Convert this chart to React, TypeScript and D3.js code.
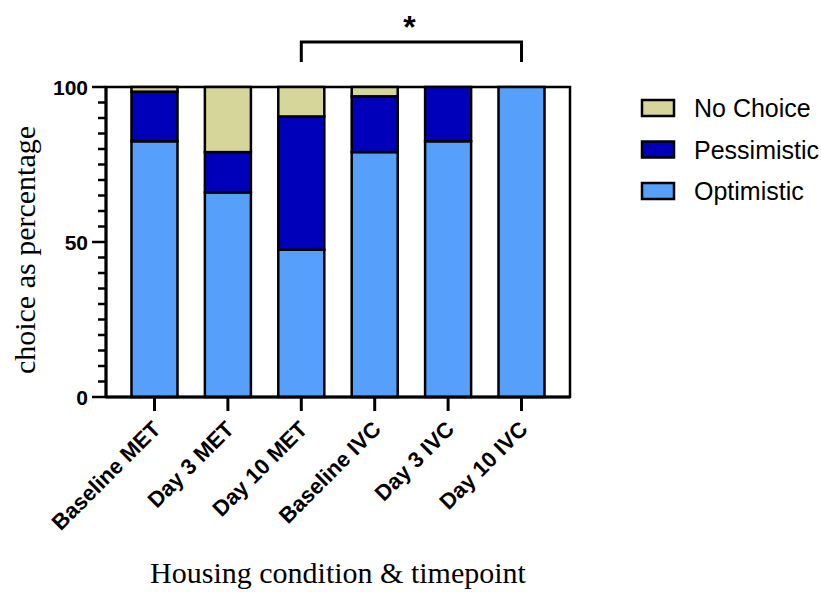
import React from "react";
import * as d3 from "d3";

// Housing condition & timepoint groups
const categories = ["Baseline MET", "Day 3 MET", "Day 10 MET", "Baseline IVC", "Day 3 IVC", "Day 10 IVC"];
// Percentage of choices per group (stacked bottom to top)
const optimistic = [82.5, 66, 47.5, 79, 82.5, 100];
const pessimistic = [16, 13, 43, 18, 17.5, 0];
const noChoice = [1.5, 21, 9.5, 3, 0, 0];

const seriesNames = ["Optimistic", "Pessimistic", "No Choice"];
const seriesColors = ["#56A0FB", "#0000BB", "#D6D69A"];
const legendOrder = ["No Choice", "Pessimistic", "Optimistic"];
const yTicks = [0, 50, 100];

const W = 821;
const H = 592;
const margin = { left: 106, right: 570, top: 87, bottom: 397 };

export default function App() {
  const x = d3
    .scaleBand<string>()
    .domain(categories)
    .range([margin.left, margin.right])
    .paddingInner(0.373)
    .paddingOuter(0.347);
  const y = d3.scaleLinear().domain([0, 100]).range([margin.bottom, margin.top]);

  const rows = categories.map((c, i) => ({
    cat: c,
    Optimistic: optimistic[i],
    Pessimistic: pessimistic[i],
    "No Choice": noChoice[i],
  }));
  const stack = d3.stack<any>().keys(seriesNames)(rows);
  const minorTicks = d3.range(0, 101, 5);

  const sans = "'Liberation Sans', Arial, sans-serif";
  const serif = "'Liberation Serif', 'Times New Roman', serif";

  const x0 = x("Day 10 MET")! + x.bandwidth() / 2;
  const x1 = x("Day 10 IVC")! + x.bandwidth() / 2;

  return (
    <svg width={W} height={H} style={{ position: "absolute", left: 0, top: 0, background: "#fff" }}>
      {/* plot frame */}
      <rect
        x={margin.left}
        y={margin.top}
        width={margin.right - margin.left}
        height={margin.bottom - margin.top}
        fill="#fff"
        stroke="#000"
        strokeWidth={2.5}
      />
      {/* stacked bars */}
      {stack.map((layer, li) => (
        <g key={layer.key}>
          {layer.map((d, i) =>
            d[1] - d[0] > 0 ? (
              <rect
                key={i}
                x={x(categories[i])}
                y={y(d[1])}
                width={x.bandwidth()}
                height={y(d[0]) - y(d[1])}
                fill={seriesColors[li]}
                stroke="#000"
                strokeWidth={2.5}
              />
            ) : null
          )}
        </g>
      ))}
      {/* y axis */}
      <line x1={margin.left} x2={margin.left} y1={margin.top} y2={margin.bottom} stroke="#000" strokeWidth={3} />
      {minorTicks.map((t) => (
        <line
          key={t}
          x1={margin.left - (t % 50 === 0 ? 14 : 8)}
          x2={margin.left}
          y1={y(t)}
          y2={y(t)}
          stroke="#000"
          strokeWidth={2.5}
        />
      ))}
      {yTicks.map((t) => (
        <text
          key={t}
          x={88}
          y={y(t)}
          dy="0.36em"
          textAnchor="end"
          fontFamily={sans}
          fontWeight="bold"
          fontSize={21}
        >
          {t}
        </text>
      ))}
      <text
        transform={`translate(24,250) rotate(-90)`}
        textAnchor="middle"
        dy="0.35em"
        fontFamily={serif}
        fontSize={30}
      >
        choice as percentage
      </text>
      {/* x axis */}
      <line x1={margin.left} x2={margin.right} y1={margin.bottom} y2={margin.bottom} stroke="#000" strokeWidth={3} />
      {categories.map((c) => {
        const cx = x(c)! + x.bandwidth() / 2;
        return (
          <g key={c}>
            <line x1={cx} x2={cx} y1={margin.bottom} y2={margin.bottom + 14} stroke="#000" strokeWidth={3} />
            <text
              transform={`translate(${cx + 2},${margin.bottom + 28}) rotate(-45)`}
              textAnchor="end"
              dy="0.35em"
              fontFamily={sans}
              fontWeight="bold"
              fontSize={22}
            >
              {c}
            </text>
          </g>
        );
      })}
      <text x={338} y={583} textAnchor="middle" fontFamily={serif} fontSize={30}>
        Housing condition &amp; timepoint
      </text>
      {/* significance bracket */}
      <path
        d={`M${x0},62 V42 H${x1} V62`}
        fill="none"
        stroke="#000"
        strokeWidth={3}
      />
      <text x={(x0 + x1) / 2 - 2} y={38} textAnchor="middle" fontFamily={sans} fontWeight="bold" fontSize={32}>
        *
      </text>
      {/* legend */}
      {legendOrder.map((name, i) => {
        const ly = 108 + i * 41.5;
        const col = seriesColors[seriesNames.indexOf(name)];
        return (
          <g key={name}>
            <rect x={642} y={ly - 8} width={32} height={16} fill={col} stroke="#000" strokeWidth={2.5} />
            <text x={694} y={ly} dy="0.36em" fontFamily={sans} fontSize={25}>
              {name}
            </text>
          </g>
        );
      })}
    </svg>
  );
}
